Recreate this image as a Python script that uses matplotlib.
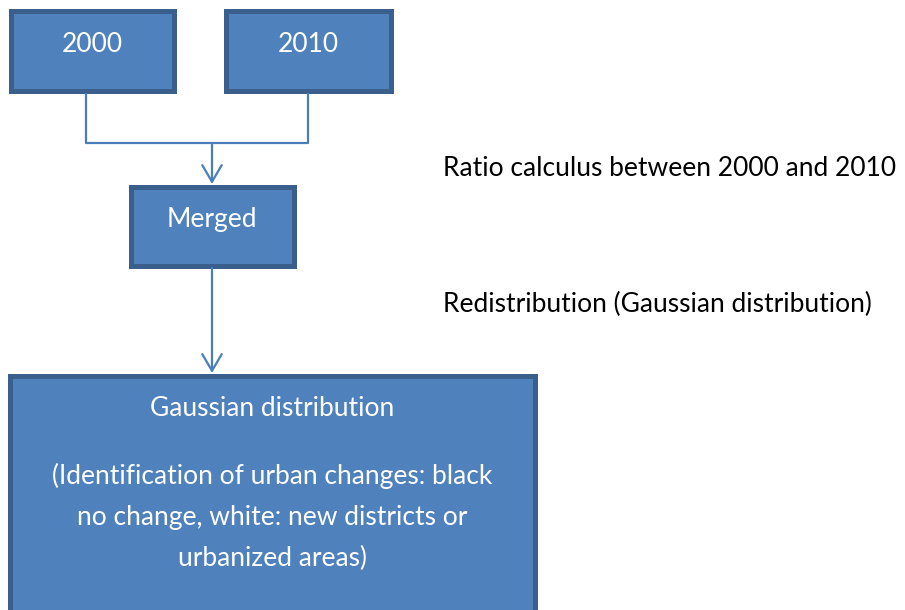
import matplotlib
matplotlib.use('Agg')
import matplotlib.pyplot as plt
from matplotlib.patches import Rectangle

plt.rcParams['font.family'] = ['Lato', 'DejaVu Sans']

# ------------------------------------------------------------
# content
# ------------------------------------------------------------
box_labels = ['2000', '2010', 'Merged']
final_title = 'Gaussian distribution'
final_lines = ['(Identification of urban changes: black',
               'no change, white: new districts or',
               'urbanized areas)']
step_notes = ['Ratio calculus between 2000 and 2010',
              'Redistribution (Gaussian distribution)']

# ------------------------------------------------------------
# layout (pixel units, y going down)
# ------------------------------------------------------------
box_xy = [(8, 8, 168, 85), (223, 8, 170, 85), (128, 184, 168, 84)]
final_xy = (7, 373, 530, 245)
note_pos = [(443, 169), (443, 304)]

FILL = '#4F81BD'
EDGE = '#3A5F8C'
LINE = '#4A7EBB'
FS = 19

fig = plt.figure(figsize=(9.05, 6.10), dpi=100)
ax = fig.add_axes([0, 0, 1, 1])
ax.set_xlim(0, 905)
ax.set_ylim(610, 0)
ax.axis('off')

bw = 5  # border width in px
lw_pt = bw * 72 / 100


def draw_box(x, y, w, h):
    ax.add_patch(Rectangle((x + bw / 2, y + bw / 2), w - bw, h - bw,
                           facecolor=FILL, edgecolor=EDGE, linewidth=lw_pt,
                           joinstyle='miter'))


for (x, y, w, h), lab in zip(box_xy, box_labels):
    draw_box(x, y, w, h)
    ax.text(x + w / 2, y + 36, lab,
            color='white', fontsize=FS, ha='center', va='center')

fx, fy, fw, fh = final_xy
draw_box(fx, fy, fw, fh)
cx = fx + fw / 2
ax.text(cx, 408, final_title, color='white', fontsize=FS, ha='center', va='center')
for i, line in enumerate(final_lines):
    ax.text(cx, 476 + i * 41, line, color='white', fontsize=FS,
            ha='center', va='center')

for (x, y), note in zip(note_pos, step_notes):
    ax.text(x, y, note, color='black', fontsize=FS, ha='left', va='center')

# connectors
x1 = box_xy[0][0] + 78
x2 = box_xy[1][0] + 85
mx = box_xy[2][0] + box_xy[2][2] / 2
ybot = box_xy[0][1] + box_xy[0][3]
yj = 143
line_kw = dict(color=LINE, linewidth=1.6, solid_capstyle='butt')
ax.plot([x1, x1, x2, x2], [ybot, yj, yj, ybot], **line_kw)

arrow = dict(arrowstyle='->,head_length=12,head_width=7', color=LINE,
             linewidth=1.6, mutation_scale=1, shrinkA=0, shrinkB=0)
ax.annotate('', xy=(mx, box_xy[2][1]), xytext=(mx, yj), arrowprops=arrow)
ax.annotate('', xy=(mx, fy), xytext=(mx, box_xy[2][1] + box_xy[2][3]),
            arrowprops=arrow)

plt.savefig('out.png', dpi=100)
